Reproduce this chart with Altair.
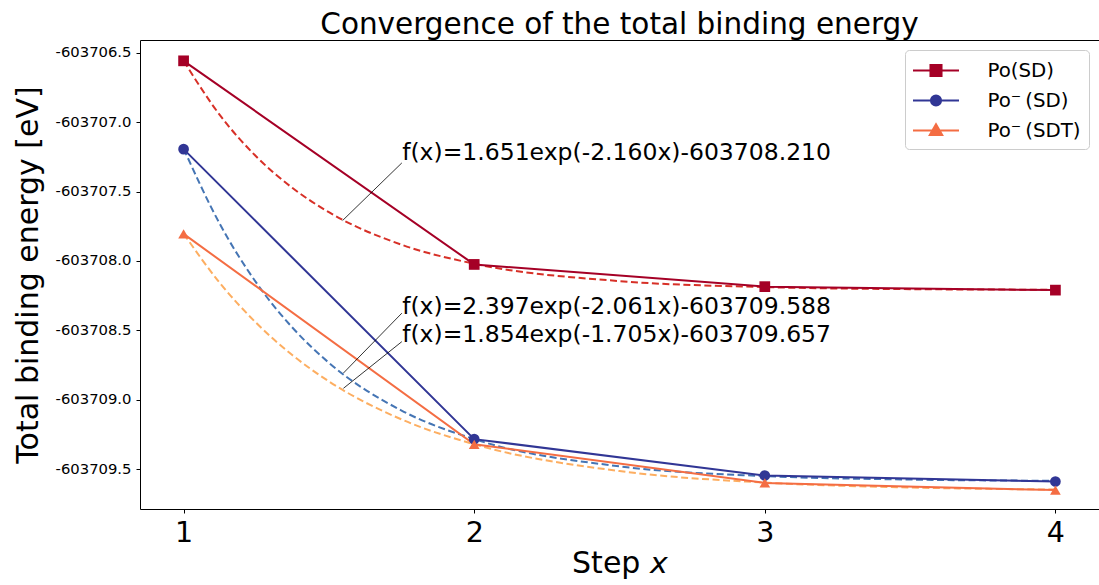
import altair as alt
import pandas as pd

# ---- data ----
series_names = ["Po(SD)", "Po\u207b\u2009(SD)", "Po\u207b\u2009(SDT)"]
steps = [1, 2, 3, 4]
e_po_sd = [-603706.559, -603708.025, -603708.185, -603708.210]
e_pom_sd = [-603707.195, -603709.283, -603709.545, -603709.588]
e_pom_sdt = [-603707.805, -603709.320, -603709.598, -603709.650]

fit_x = [1, 1.125, 1.25, 1.375, 1.5, 1.75, 2, 2.5, 3, 3.5, 4]
fit_po_sd = [-603706.559, -603706.950, -603707.248, -603707.475, -603707.649,
             -603707.883, -603708.020, -603708.145, -603708.188, -603708.203, -603708.207]
fit_pom_sd = [-603707.191, -603707.735, -603708.156, -603708.481, -603708.733,
              -603709.077, -603709.283, -603709.479, -603709.549, -603709.574, -603709.583]
fit_pom_sdt = [-603707.803, -603708.159, -603708.446, -603708.679, -603708.867,
               -603709.141, -603709.320, -603709.513, -603709.596, -603709.631, -603709.646]

data_colors = ["#a50026", "#313695", "#f46d43"]
fit_colors = ["#d73027", "#4575b4", "#fdae61"]
marker_shapes = ["square", "circle", "triangle-up"]
# legend glyphs: a line segment with the marker in its middle
legend_glyphs = ["M-2,0H2M-0.48,-0.48H0.48V0.48H-0.48Z",
                 "M-2,0H2M0.44,0A0.44,0.44,0,1,1,-0.44,0A0.44,0.44,0,1,1,0.44,0Z",
                 "M-2,0H2M0,-0.54L0.54,0.4L-0.54,0.4Z"]

ann_text = ["f(x)=1.651exp(-2.160x)-603708.210",
            "f(x)=2.397exp(-2.061x)-603709.588",
            "f(x)=1.854exp(-1.705x)-603709.657"]
ann_text_x = [1.752, 1.752, 1.752]
ann_text_y = [-603707.222, -603708.329, -603708.533]
lead_x1 = [1.547, 1.550, 1.550]
lead_y1 = [-603707.709, -603708.807, -603708.917]
lead_x2 = [1.751, 1.751, 1.751]
lead_y2 = [-603707.294, -603708.376, -603708.581]

y_ticks = [-603709.5, -603709.0, -603708.5, -603708.0, -603707.5, -603707.0, -603706.5]
x_ticks = [1, 2, 3, 4]

# ---- tables ----
rows = []
for name, mk, vals in zip(series_names, marker_shapes, [e_po_sd, e_pom_sd, e_pom_sdt]):
    for s, v in zip(steps, vals):
        rows.append({"series": name, "marker": mk, "step": s, "energy": v})
df = pd.DataFrame(rows)

frows = []
for name, vals in zip(series_names, [fit_po_sd, fit_pom_sd, fit_pom_sdt]):
    for s, v in zip(fit_x, vals):
        frows.append({"fit": name, "step": s, "energy": v})
dff = pd.DataFrame(frows)

dfa = pd.DataFrame({"text": ann_text, "tx": ann_text_x, "ty": ann_text_y,
                    "x1": lead_x1, "y1": lead_y1, "x2": lead_x2, "y2": lead_y2})

FONT = "DejaVu Sans"
xscale = alt.Scale(domain=[0.85, 4.15], nice=False, zero=False)
yscale = alt.Scale(domain=[-603709.786, -603706.409], nice=False, zero=False)

xaxis = alt.Axis(values=x_ticks, format="d", title="Step \U0001D639",
                 labelFontSize=28.5, titleFontSize=30, labelPadding=5,
                 titleX=479.5, titleY=63, titleBaseline="alphabetic",
                 titleFontWeight="normal", grid=False, domain=False)
yaxis = alt.Axis(values=y_ticks,
                 labelExpr="replace(format(datum.value, '.1f'), '\u2212', '-')",
                 title="Total binding energy [eV]", labelFontSize=14.8,
                 titleFontSize=30, labelPadding=5, titleAngle=-90,
                 titleX=-103, titleY=234.5, titleBaseline="alphabetic",
                 titleAlign="center", titleFontWeight="normal", grid=False, domain=False)

X = alt.X("step:Q", scale=xscale, axis=xaxis)
Y = alt.Y("energy:Q", scale=yscale, axis=yaxis)

legend = alt.Legend(orient="top-right", offset=10, title=None, labelFont=FONT,
                    labelFontSize=19.8, labelColor="black", rowPadding=7, padding=8,
                    symbolSize=529, symbolStrokeWidth=2, symbolOpacity=1,
                    symbolOffset=10.5, labelOffset=39, fillColor="white",
                    strokeColor="#cccccc", cornerRadius=4)

fits = alt.Chart(dff).mark_line(strokeWidth=2, strokeDash=[7, 3.5], interpolate="monotone").encode(
    x=X, y=Y,
    color=alt.Color("fit:N", scale=alt.Scale(domain=series_names, range=fit_colors), legend=None),
    detail="fit:N")

lines = alt.Chart(df).mark_line(strokeWidth=2).encode(
    x=X, y=Y,
    color=alt.Color("series:N", scale=alt.Scale(domain=series_names, range=data_colors),
                    legend=None))
points = alt.Chart(df).mark_point(filled=True, size=115, opacity=1).encode(
    x=X, y=Y,
    color=alt.Color("series:N", scale=alt.Scale(domain=series_names, range=data_colors),
                    legend=None),
    shape=alt.Shape("marker:N", scale=None))

# invisible layer that only carries the legend
legend_layer = alt.Chart(df).mark_point(opacity=0, strokeWidth=2).encode(
    x=X, y=Y,
    fill=alt.Fill("series:N", scale=alt.Scale(domain=series_names, range=data_colors),
                  legend=legend),
    stroke=alt.Stroke("series:N", scale=alt.Scale(domain=series_names, range=data_colors),
                      legend=legend),
    shape=alt.Shape("series:N", scale=alt.Scale(domain=series_names, range=legend_glyphs),
                    legend=legend))

leaders = alt.Chart(dfa).mark_rule(color="black", strokeWidth=0.8).encode(
    x=alt.X("x1:Q", scale=xscale), y=alt.Y("y1:Q", scale=yscale),
    x2="x2:Q", y2="y2:Q")
texts = alt.Chart(dfa).mark_text(align="left", baseline="middle", font=FONT,
                                 fontSize=23.5, color="black").encode(
    x=alt.X("tx:Q", scale=xscale), y=alt.Y("ty:Q", scale=yscale), text="text:N")

chart = alt.layer(fits, lines, points, legend_layer, leaders, texts).resolve_scale(
    color="independent"
).properties(
    width=959, height=469,
    title=alt.TitleParams("Convergence of the total binding energy", font=FONT,
                          fontSize=29.5, fontWeight="normal", anchor="middle",
                          baseline="alphabetic", offset=7, dy=30, color="black"),
    autosize=alt.AutoSizeParams(type="none"),
    padding={"left": 140, "top": 40, "right": 0, "bottom": 76},
    background="white",
).configure_view(stroke="black", strokeWidth=1).configure_axis(
    labelFont=FONT, titleFont=FONT, labelColor="black", titleColor="black",
    domain=False, grid=False, tickColor="black", tickSize=4, tickWidth=1
)

chart.save("out.html", embed_options={"renderer": "svg", "actions": False})
